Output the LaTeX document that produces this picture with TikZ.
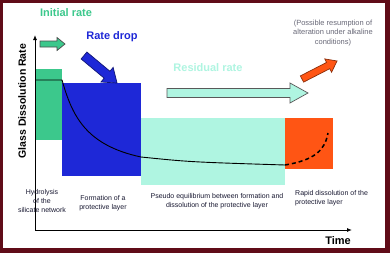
\documentclass[tikz,border=0pt]{standalone}
\usepackage{fontspec}
\setmainfont{Liberation Sans}
\usetikzlibrary{positioning}
\usetikzlibrary{arrows.meta}
\definecolor{frame}{RGB}{96,12,24}
\definecolor{green}{RGB}{60,200,140}
\definecolor{blue}{RGB}{30,40,215}
\definecolor{cyan}{RGB}{175,245,225}
\definecolor{orange}{RGB}{255,85,20}
\definecolor{note}{RGB}{105,105,120}
\definecolor{label}{RGB}{25,25,50}
% #1 style, #2 tail, #3 angle, #4 length, #5 half shaft, #6 half head, #7 head length
\newcommand{\blockarrow}[7]{%
    \draw[#1, shift={#2}, rotate=#3] (0,-#5) -- ({#4-#7},-#5) -- ({#4-#7},-#6) -- (#4,0)
        -- ({#4-#7},#6) -- ({#4-#7},#5) -- (0,#5) -- cycle;}

\begin{document}
\begin{tikzpicture}[x=1pt, y=-1pt, every node/.style={inner sep=0pt, align=center},
    title/.style={font=\fontsize{11}{13}\selectfont\bfseries},
    phase/.style={font=\fontsize{7}{9}\selectfont, text=label},
    arrowbody/.style={draw=black!70, line width=0.7pt, line join=miter}]
    \useasboundingbox (0,0) rectangle (392,255);
    % frame
    \fill[frame] (0,0) rectangle (390,253);
    \fill[white] (3,2.5) rectangle (385,248);

    % rate boxes
    \fill[green] (35,69) rectangle (62,140);
    \fill[blue] (62,83) rectangle (141,176);
    \fill[cyan] (141,118) rectangle (285,185);
    \fill[orange] (285,118) rectangle (333,169);

    % dissolution curve
    \draw[line width=0.9pt] (35,80) -- (62,80) .. controls (72,115) and (85,145) .. (141,157)
        .. controls (190,162) .. (285,165);
    \draw[line width=1.5pt, dash pattern=on 4pt off 3pt] (285,165) .. controls (315,160) and (325,150) .. (328,133);

    % axes
    \coordinate (origin) at (35,230);
    \coordinate (ytop) at (35,35);
    \coordinate (xend) at (352,230);
    \draw[line width=0.9pt, -{Latex[length=5pt,width=4pt]}] (origin) -- (ytop);
    \draw[line width=0.9pt, -{Latex[length=5pt,width=4pt]}] (origin) -- (xend);
    \node[rotate=90, font=\fontsize{10.5}{12}\selectfont\bfseries] (ylabel) at (22,101) {Glass Dissolution Rate};
    \node[title] (time) at (338,241) {Time};

    % titles and arrows
    \node[title, text=green] (initial) at (66,13) {Initial rate};
    \node[title, text=blue] (drop) at (112,37) {Rate drop};
    \node[title, text=cyan] (residual) at (208,68) {Residual rate};
    \node[font=\fontsize{7.5}{9.5}\selectfont, text=note] (resume) at (333,33)
        {(Possible resumption of\\alteration under alkaline\\conditions)};

    \blockarrow{arrowbody, fill=green}{(40,44)}{0}{25}{3}{6.5}{8}
    \blockarrow{arrowbody, fill=blue, draw=blue!55!black}{(84,55.5)}{-39.8}{43}{4.5}{9.5}{13}
    \blockarrow{arrowbody, fill=cyan, draw=black!65}{(167,93)}{0}{141}{4.5}{10}{18}
    \blockarrow{arrowbody, fill=orange, draw=orange!55!black}{(302,79)}{27.2}{39.4}{3.5}{7.5}{10}

    % phase labels
    \node[phase] (hydrolysis) at (42,201) {Hydrolysis\\of the\\silicate network};
    \node[phase] (formation) at (103,203.5) {Formation of a\\protective layer};
    \node[phase] (pseudo) at (217,201.5) {Pseudo equilibrium between formation and\\dissolution of the protective layer};
    \node[phase, anchor=west, align=left] (rapid) at (295,198) {Rapid dissolution of the\\protective layer};
\end{tikzpicture}
\end{document}
